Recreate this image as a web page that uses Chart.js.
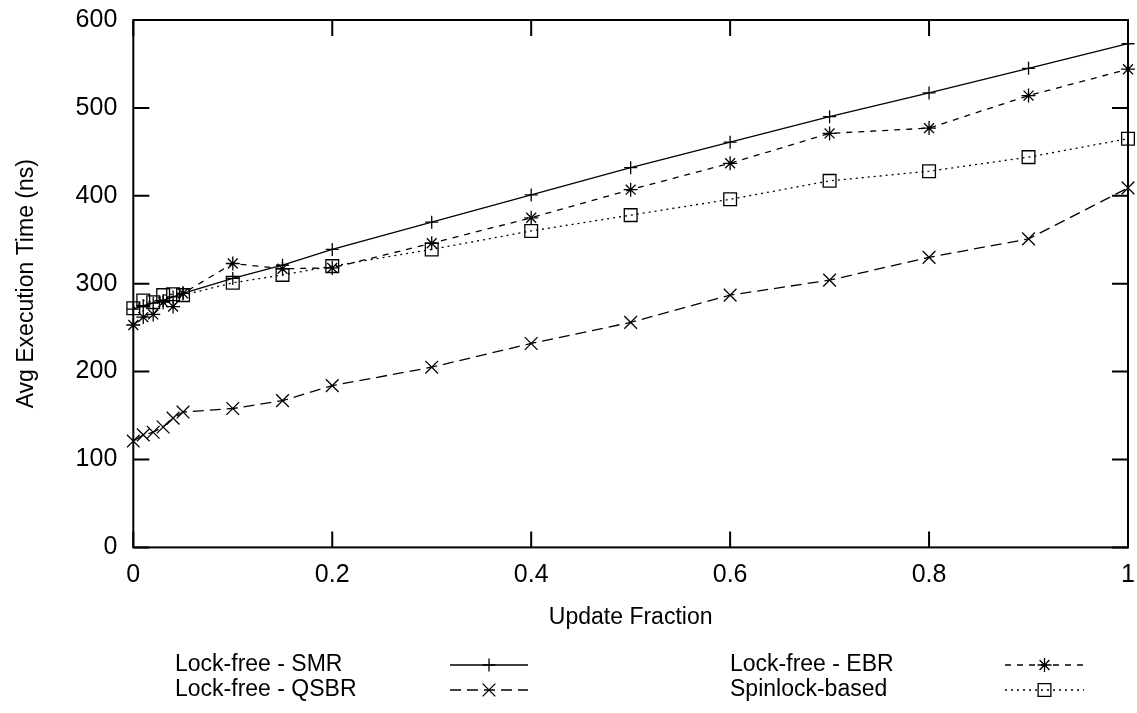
<!DOCTYPE html>
<html>
<head>
<meta charset="utf-8">
<script src="https://cdn.jsdelivr.net/npm/chart.js@4.4.0/dist/chart.umd.min.js"></script>
<style>
  html, body { margin: 0; padding: 0; background: #fff; }
  #grafico { display: block; }
</style>
</head>
<body>
<canvas id="grafico" width="1137" height="713"></canvas>
<script>
// fraccion de actualizaciones (eje x)
const fracciones = [0, 0.01, 0.02, 0.03, 0.04, 0.05, 0.1, 0.15, 0.2, 0.3, 0.4, 0.5, 0.6, 0.7, 0.8, 0.9, 1];

// tiempo medio de ejecucion (ns) por esquema
const tiempoSMR = [271, 275, 278, 281, 285, 289, 306, 321, 339, 370, 401, 432, 461, 490, 517, 545, 573];
const tiempoEBR = [253, 262, 265, 279, 274, 289, 323, 317, 318, 346, 375, 407, 437, 471, 477, 514, 544];
const tiempoQSBR = [121, 128, 131, 137, 147, 154, 158, 167, 184, 205, 232, 256, 287, 304, 330, 351, 409];
const tiempoSpin = [272, 281, 279, 287, 288, 287, 301, 310, 320, 339, 360, 378, 396, 417, 428, 444, 465];

const ticksX = [0, 0.2, 0.4, 0.6, 0.8, 1];
const ticksY = [0, 100, 200, 300, 400, 500, 600];

const fuente = "'Liberation Sans', Arial, Helvetica, sans-serif";
const tamFuente = 23;
const tamTicks = 25;

function serie(label, valores, estilo, radio, dash) {
  return {
    label: label,
    data: fracciones.map((f, i) => ({ x: f, y: valores[i] })),
    borderColor: "#000",
    backgroundColor: "rgba(0,0,0,0)",
    borderWidth: 1.3,
    borderDash: dash,
    pointStyle: estilo,
    pointRadius: radio,
    pointBorderWidth: 1.3,
    pointBorderColor: "#000",
    pointBackgroundColor: "rgba(0,0,0,0)",
    tension: 0,
    clip: false,
  };
}

// marco con ticks hacia dentro en los cuatro lados
const marco = {
  id: "marco",
  beforeDatasetsDraw(chart) {
    const { ctx, chartArea: a, scales } = chart;
    const largo = 16;
    ctx.save();
    ctx.strokeStyle = "#000";
    ctx.lineWidth = 2;
    ctx.setLineDash([]);
    ctx.strokeRect(a.left, a.top, a.right - a.left, a.bottom - a.top);
    ctx.beginPath();
    scales.x.ticks.forEach((t) => {
      const px = scales.x.getPixelForValue(t.value);
      ctx.moveTo(px, a.bottom);
      ctx.lineTo(px, a.bottom - largo);
      ctx.moveTo(px, a.top);
      ctx.lineTo(px, a.top + largo);
    });
    scales.y.ticks.forEach((t) => {
      const py = scales.y.getPixelForValue(t.value);
      ctx.moveTo(a.left, py);
      ctx.lineTo(a.left + largo, py);
      ctx.moveTo(a.right, py);
      ctx.lineTo(a.right - largo, py);
    });
    ctx.stroke();
    ctx.restore();
  },
};

// leyenda en dos columnas: texto y luego la muestra de linea
const leyenda = {
  id: "leyenda",
  afterDraw(chart) {
    const ctx = chart.ctx;
    const sitios = [
      { tx: 175, x0: 450, x1: 528, y: 665 },
      { tx: 730, x0: 1005, x1: 1084, y: 665 },
      { tx: 175, x0: 450, x1: 528, y: 690 },
      { tx: 730, x0: 1005, x1: 1084, y: 690 },
    ];
    ctx.save();
    ctx.font = tamFuente + "px " + fuente;
    ctx.textBaseline = "middle";
    chart.data.datasets.forEach((ds, i) => {
      const s = sitios[i];
      ctx.fillStyle = "#000";
      ctx.fillText(ds.label, s.tx, s.y);
      ctx.strokeStyle = "#000";
      ctx.lineWidth = ds.borderWidth;
      ctx.setLineDash(ds.borderDash || []);
      ctx.beginPath();
      ctx.moveTo(s.x0, s.y);
      ctx.lineTo(s.x1, s.y);
      ctx.stroke();
      ctx.setLineDash([]);
      ctx.fillStyle = "rgba(0,0,0,0)";
      Chart.helpers.drawPoint(ctx, {
        pointStyle: ds.pointStyle,
        radius: ds.pointRadius,
        rotation: 0,
        borderWidth: ds.pointBorderWidth,
      }, (s.x0 + s.x1) / 2, s.y);
    });
    ctx.restore();
  },
};

const ctx = document.getElementById("grafico").getContext("2d");
new Chart(ctx, {
  type: "line",
  data: {
    datasets: [
      serie("Lock-free - SMR", tiempoSMR, "cross", 6.5, []),
      serie("Lock-free - EBR", tiempoEBR, "star", 7, [6, 6]),
      serie("Lock-free - QSBR", tiempoQSBR, "crossRot", 9, [11, 6]),
      serie("Spinlock-based", tiempoSpin, "rect", 9, [2, 4]),
    ],
  },
  options: {
    responsive: false,
    animation: false,
    clip: false,
    layout: { autoPadding: false, padding: { left: 8, right: 0, top: 0, bottom: 82 } },
    plugins: {
      legend: { display: false },
      tooltip: { enabled: false },
    },
    scales: {
      x: {
        type: "linear",
        min: 0,
        max: 1,
        afterBuildTicks: (eje) => { eje.ticks = ticksX.map((v) => ({ value: v })); },
        // margen derecho fijo, sin sumar el padding de las etiquetas
        afterFit: (eje) => { eje.paddingRight = 9; },
        grid: { display: false, drawTicks: false },
        border: { display: false },
        ticks: {
          color: "#000",
          font: { size: tamTicks, family: fuente },
          padding: 13,
          maxRotation: 0,
          callback: (v) => String(+v.toFixed(1)),
        },
        title: {
          display: true,
          text: "Update Fraction",
          color: "#000",
          font: { size: tamFuente, family: fuente },
          padding: { top: 0, bottom: 0 },
        },
      },
      y: {
        type: "linear",
        min: 0,
        max: 600,
        afterBuildTicks: (eje) => { eje.ticks = ticksY.map((v) => ({ value: v })); },
        afterFit: (eje) => { eje.paddingTop = 20; },
        grid: { display: false, drawTicks: false },
        border: { display: false },
        ticks: {
          color: "#000",
          font: { size: tamTicks, family: fuente },
          padding: 16,
        },
        title: {
          display: true,
          text: "Avg Execution Time (ns)",
          color: "#000",
          font: { size: tamFuente, family: fuente },
          padding: { top: 5, bottom: 19 },
        },
      },
    },
  },
  plugins: [marco, leyenda],
});
</script>
</body>
</html>
